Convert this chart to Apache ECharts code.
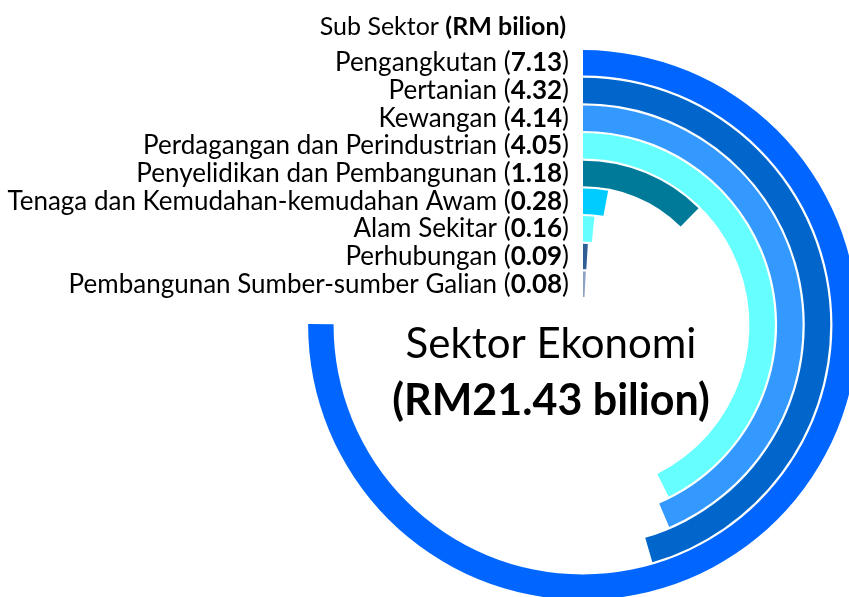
<!DOCTYPE html>
<html>
<head>
<meta charset="utf-8">
<script src="https://cdn.jsdelivr.net/npm/echarts@6/dist/echarts.min.js"></script>
<style>
  html, body { margin: 0; padding: 0; background: #fff; }
  #main { width: 849px; height: 597px; }
</style>
</head>
<body>
<div id="main"></div>
<script>
// sub sectors, from the innermost ring to the outermost one
var sektor = ['Pembangunan Sumber-sumber Galian', 'Perhubungan', 'Alam Sekitar',
  'Tenaga dan Kemudahan-kemudahan Awam', 'Penyelidikan dan Pembangunan',
  'Perdagangan dan Perindustrian', 'Kewangan', 'Pertanian', 'Pengangkutan'];
var nilai = [0.08, 0.09, 0.16, 0.28, 1.18, 4.05, 4.14, 4.32, 7.13];
var warna = ['#8FA3C8', '#2F5F95', '#66FFFF', '#00CCFF', '#007A99',
  '#66FFFF', '#3399FF', '#0066CC', '#0066FF'];
var jumlah = '21.43';

var font = 'Lato, "Open Sans", sans-serif';
var chart = echarts.init(document.getElementById('main'));

var option = {
  backgroundColor: '#fff',
  animation: false,
  title: {
    text: 'Sub Sektor {b|(RM bilion)}',
    right: 278,
    top: 9,
    textStyle: {
      fontFamily: font, fontSize: 25, fontWeight: 'normal', color: '#000',
      rich: { b: { fontFamily: font, fontSize: 25, fontWeight: 'bold', color: '#000' } }
    }
  },
  graphic: [
    { type: 'text', x: 551, y: 344,
      style: { text: 'Sektor Ekonomi', font: '42px ' + font, fill: '#000',
        textAlign: 'center', textVerticalAlign: 'middle' } },
    { type: 'text', x: 551, y: 401,
      style: { text: '(RM' + jumlah + ' bilion)', font: 'bold 43px ' + font, fill: '#000',
        textAlign: 'center', textVerticalAlign: 'middle' } }
  ],
  polar: { center: [583, 325], radius: [27, 276] },
  angleAxis: {
    max: 9.5, startAngle: 90, clockwise: true,
    axisLine: { show: false }, axisTick: { show: false },
    axisLabel: { show: false }, splitLine: { show: false }
  },
  radiusAxis: {
    type: 'category',
    data: sektor,
    axisLine: { show: false }, axisTick: { show: false },
    splitLine: { show: false },
    axisLabel: {
      interval: 0,
      hideOverlap: false,
      margin: 14,
      fontFamily: font, fontSize: 26, color: '#000',
      formatter: function (v, i) {
        return v + ' ({b|' + nilai[i].toFixed(2) + '})';
      },
      rich: { b: { fontFamily: font, fontSize: 26, fontWeight: 'bold', color: '#000' } }
    }
  },
  series: [{
    type: 'bar',
    coordinateSystem: 'polar',
    barCategoryGap: '8%',
    data: nilai.map(function (v, i) {
      return { value: v, itemStyle: { color: warna[i] } };
    })
  }]
};
chart.setOption(option);
</script>
</body>
</html>
